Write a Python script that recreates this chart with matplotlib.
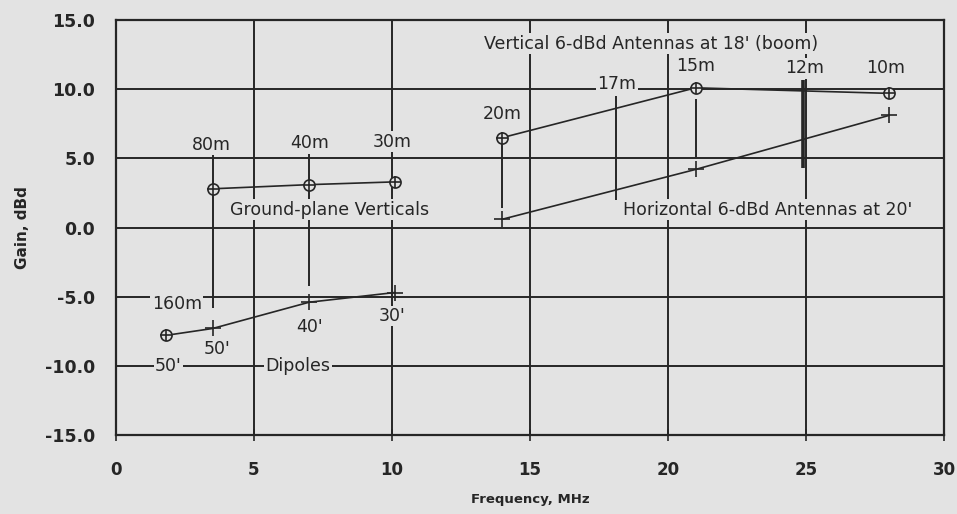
import matplotlib.pyplot as plt
import numpy as np

# Ground-plane verticals (80m, 40m, 30m)
gp_freq = [3.5, 7.0, 10.1]
gp_gain = [2.8, 3.1, 3.3]

# Dipoles: 160m at 50', 80m at 50', 40m at 40', 30m at 30'
dip_freq = [1.8, 3.5, 7.0, 10.1]
dip_gain = [-7.8, -7.3, -5.4, -4.7]

# 6-dBd verticals at 18' (boom): 20m, 15m, 10m
vert_freq = [14.0, 21.0, 28.0]
vert_gain = [6.5, 10.1, 9.7]

# 6-dBd horizontal antennas at 20'
hor_freq = [14.0, 21.0, 28.0]
hor_gain = [0.6, 4.2, 8.1]

# band marker lines: frequency, top, bottom
band_freq = [3.5, 7.0, 18.1, 14.0, 21.0]
band_top = [5.4, 5.5, 9.5, 6.2, 9.3]
band_bot = [-5.8, -4.2, 2.0, 1.4, 5.1]

band_labels = ['80m', '40m', '30m', '20m', '17m', '15m', '12m', '10m']
band_lx = [3.45, 7.0, 10.0, 14.0, 18.15, 21.0, 24.95, 27.9]
band_ly = [6.0, 6.1, 6.2, 8.2, 10.4, 11.7, 11.5, 11.5]

bg = '#e3e3e3'
ink = '#262626'

fig = plt.figure(figsize=(9.57, 5.14), dpi=100, facecolor=bg)
ax = fig.add_axes([0.1212, 0.1537, 0.8652, 0.8073], facecolor=bg)

ax.set_xlim(0, 30)
ax.set_ylim(-15, 15)
ax.set_xticks(np.arange(0, 31, 5))
ax.set_yticks(np.arange(-15, 16, 5))
ax.set_yticklabels(['%.1f' % v for v in np.arange(-15, 16, 5)])
ax.grid(True, color=ink, lw=1.4)
ax.set_axisbelow(True)
for s in ax.spines.values():
    s.set_color(ink)
    s.set_linewidth(1.6)

ax.tick_params(axis='x', direction='inout', length=8, width=1.2, color=ink, pad=15,
               labelsize=12)
ax.tick_params(axis='y', length=0, pad=15, labelsize=12.5)
for lab in ax.get_xticklabels() + ax.get_yticklabels():
    lab.set_fontweight('bold')
    lab.set_color(ink)

ax.set_xlabel('Frequency, MHz', fontsize=9.5, fontweight='bold', color=ink, labelpad=10)
ax.set_ylabel('Gain, dBd', fontsize=11, fontweight='bold', color=ink, labelpad=11)

# band marker lines
ax.vlines(band_freq, band_bot, band_top, color=ink, lw=1.4, zorder=2)
ax.vlines([24.9], [4.3], [10.7], color=ink, lw=2.6, zorder=2)

# curves
ax.plot(gp_freq, gp_gain, color=ink, lw=1.2, zorder=3)
ax.plot(dip_freq, dip_gain, color=ink, lw=1.2, zorder=3)
ax.plot(vert_freq, vert_gain, color=ink, lw=1.2, zorder=3)
ax.plot(hor_freq, hor_gain, color=ink, lw=1.2, zorder=3)

# circle-plus markers
cx = gp_freq + [dip_freq[0]] + vert_freq
cy = gp_gain + [dip_gain[0]] + vert_gain
ax.plot(cx, cy, ls='none', marker='o', ms=8, mfc=bg, mec=ink, mew=1.2, zorder=4)
ax.plot(cx, cy, ls='none', marker='+', ms=8, mec=ink, mew=1.2, zorder=5)
# plus markers
ax.plot(dip_freq[1:] + hor_freq, dip_gain[1:] + hor_gain, ls='none', marker='+',
        ms=11, mec=ink, mew=1.2, zorder=5)

box = dict(fc=bg, ec='none', pad=1.0)
tkw = dict(fontsize=12.5, color=ink, ha='center', va='center', zorder=6)

for t, x, y in zip(band_labels, band_lx, band_ly):
    ax.text(x, y, t, bbox=box, **tkw)

ax.text(19.4, 13.3, "Vertical 6-dBd Antennas at 18' (boom)", bbox=box, **tkw)
ax.text(23.6, 1.3, "Horizontal 6-dBd Antennas at 20'", bbox=box, **tkw)
ax.text(7.75, 1.3, 'Ground-plane Verticals', bbox=box, **tkw)
ax.text(6.6, -10.0, 'Dipoles', bbox=box, **tkw)
ax.text(1.9, -10.0, "50'", bbox=box, **tkw)
ax.text(2.2, -5.5, '160m', bbox=box, **tkw)
ax.text(3.65, -8.8, "50'", bbox=box, **tkw)
ax.text(7.0, -7.2, "40'", bbox=box, **tkw)
ax.text(10.0, -6.4, "30'", bbox=box, **tkw)

fig.savefig('out.png', dpi=100, facecolor=bg)
